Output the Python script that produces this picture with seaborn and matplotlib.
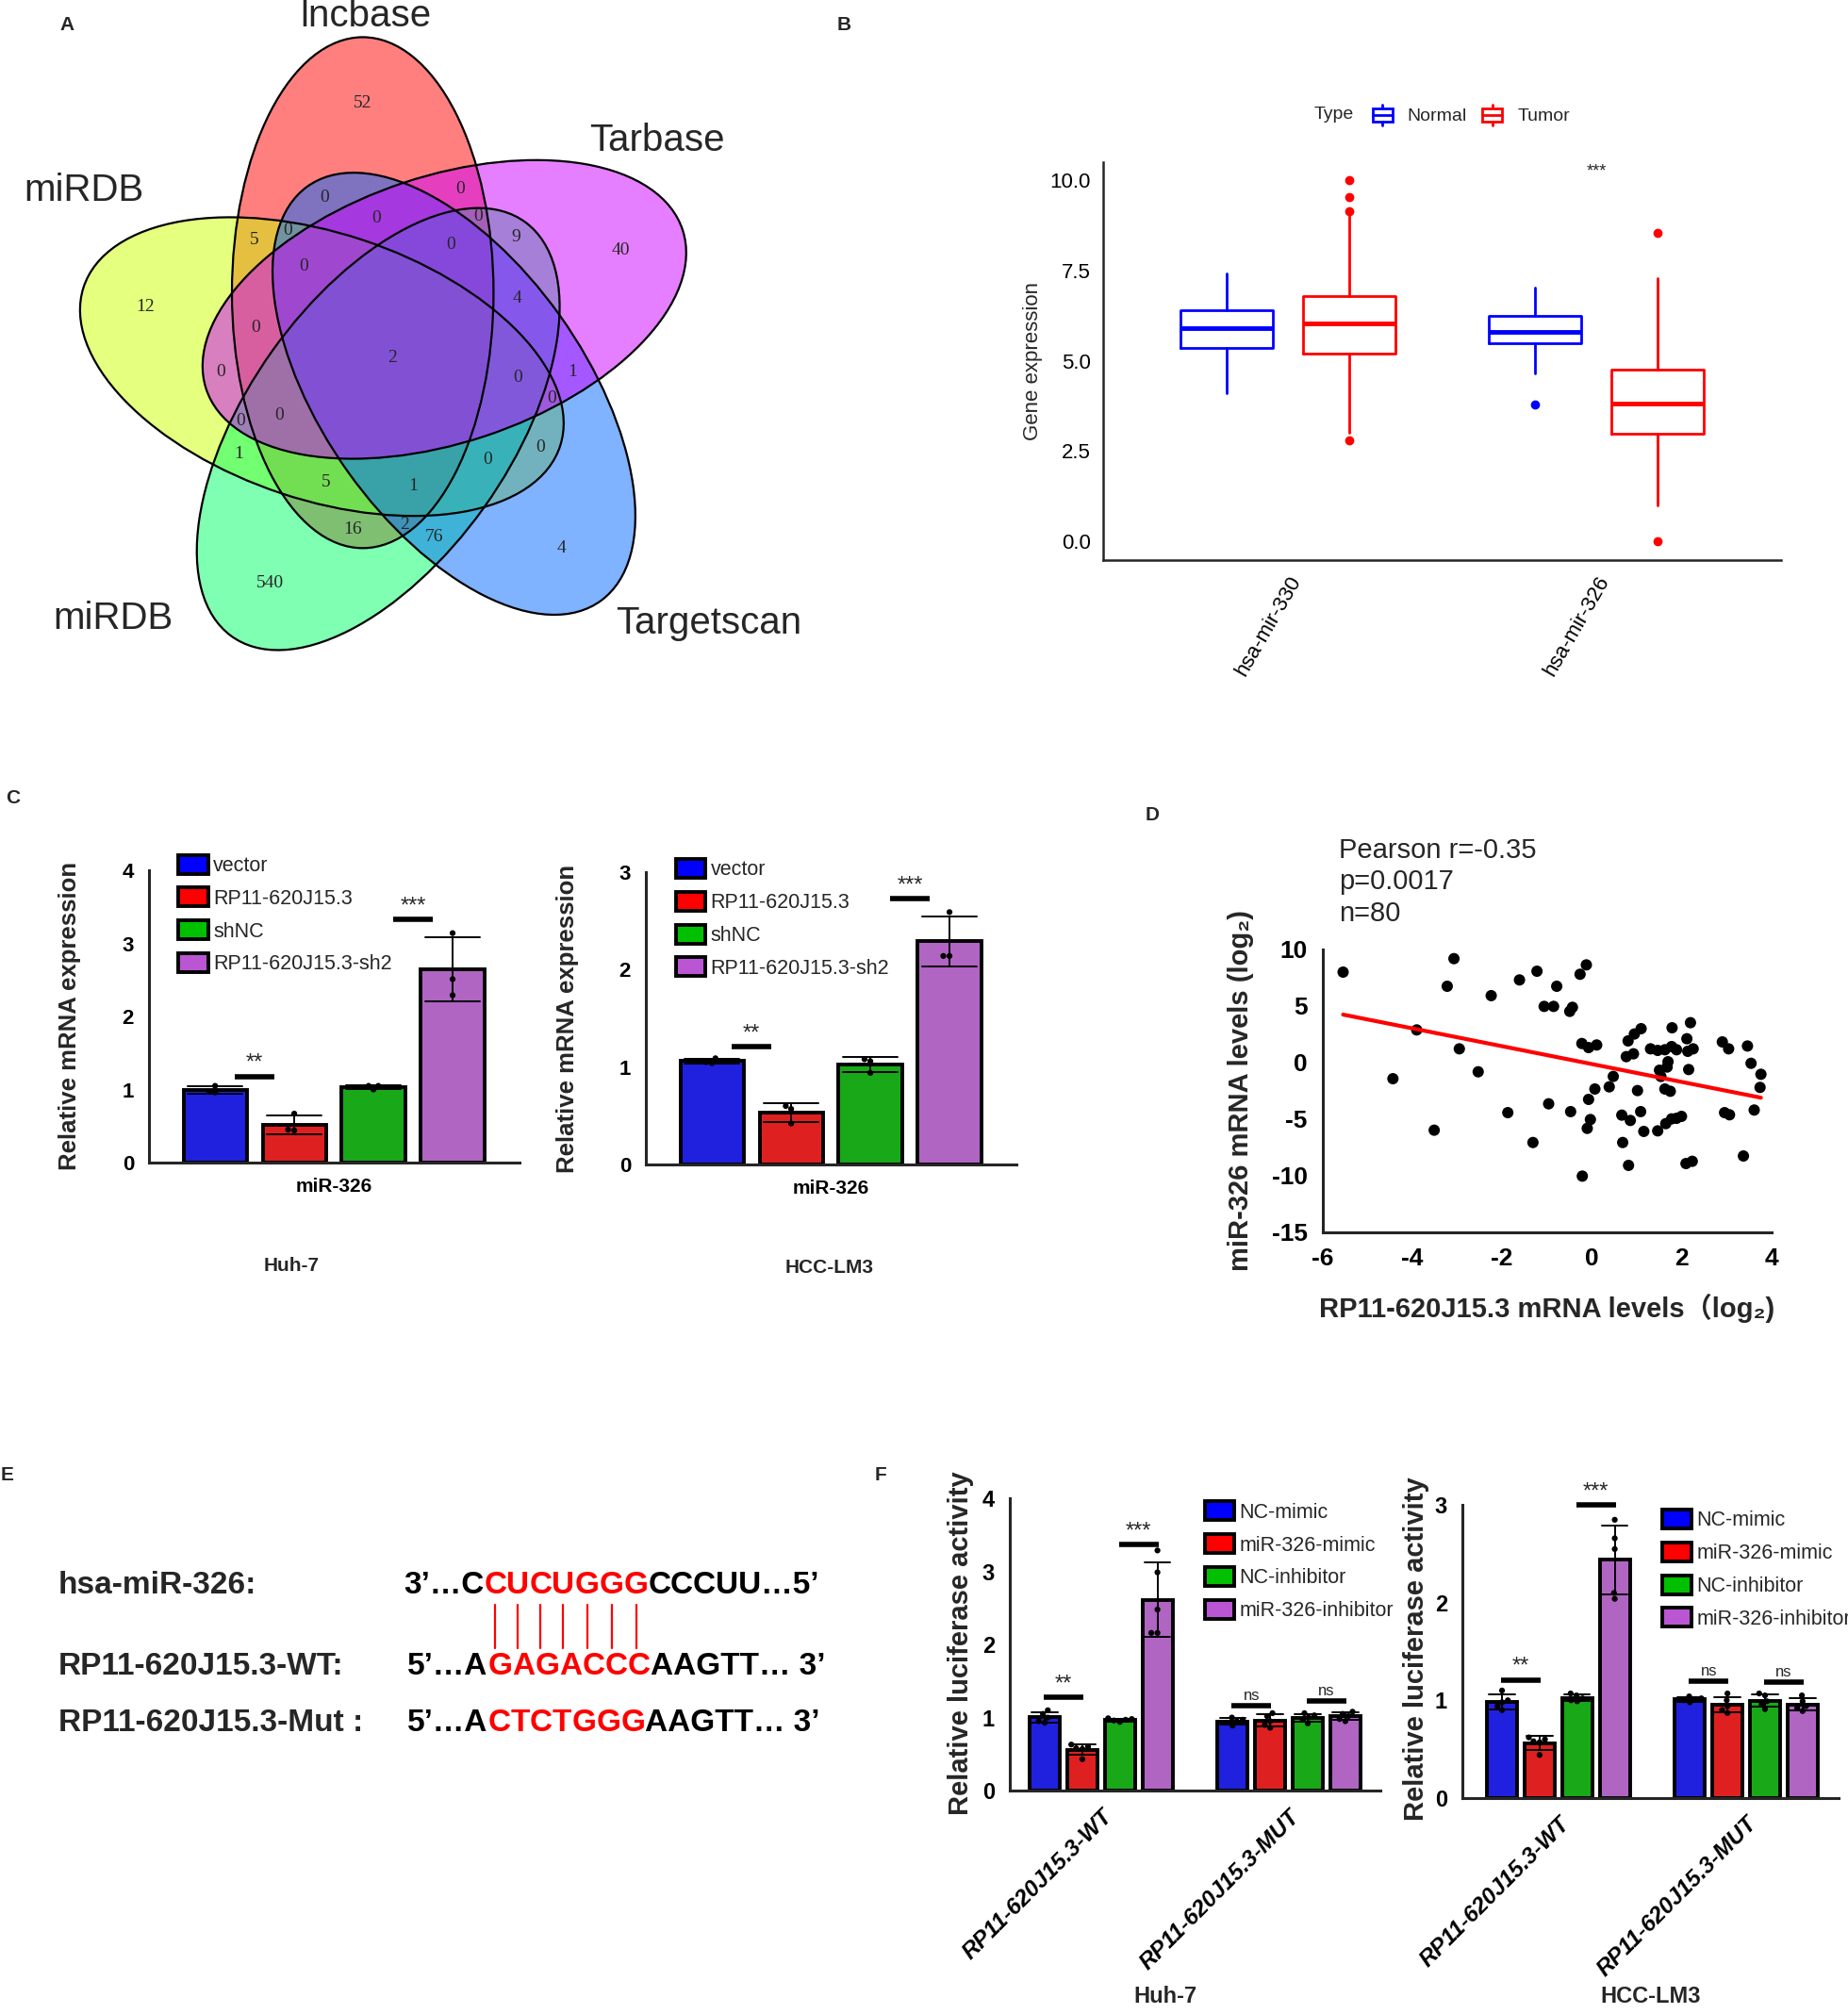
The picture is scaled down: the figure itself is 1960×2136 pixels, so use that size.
import numpy as np
import pandas as pd
import matplotlib
matplotlib.use("Agg")
import matplotlib.pyplot as plt
import seaborn as sns
from matplotlib.patches import Ellipse, Patch, Rectangle
from matplotlib.lines import Line2D
from matplotlib.legend_handler import HandlerBase
from matplotlib.ticker import FormatStrFormatter

# ---------------- data ----------------
# A: five-set Venn. L=lncbase, T=Tarbase, S=Targetscan, G=miRDB (bottom), Y=miRDB (left)
venn_keys = ["L", "T", "S", "G", "Y"]
venn_names = ["lncbase", "Tarbase", "Targetscan", "miRDB", "miRDB"]
venn_counts = {
    "L": 52, "T": 40, "S": 4, "G": 540, "Y": 12,
    "LT": 0, "LS": 0, "LG": 16, "LY": 5, "TS": 1, "TG": 9, "TY": 0, "SG": 76, "SY": 0, "GY": 1,
    "LTS": 0, "LTG": 0, "LTY": 0, "LSG": 2, "LSY": 0, "LGY": 5, "TSG": 4, "TSY": 0, "TGY": 0, "SGY": 0,
    "LTSG": 0, "LTSY": 0, "LTGY": 0, "LSGY": 1, "TSGY": 0,
    "LTSGY": 2,
}

# B: boxplot summary (330-Normal, 330-Tumor, 326-Normal, 326-Tumor)
b_genes = ["hsa-mir-330", "hsa-mir-326"]
b_types = ["Normal", "Tumor"]
b_whislo = [4.10, 3.00, 4.64, 0.99]
b_q1 = [5.36, 5.19, 5.48, 2.97]
b_med = [5.91, 6.03, 5.80, 3.81]
b_q3 = [6.40, 6.79, 6.24, 4.75]
b_whishi = [7.41, 9.05, 7.02, 7.28]
b_fliers = [[], [2.80, 9.14, 9.53, 10.0], [3.80], [0.0, 8.55]]

# C: relative miR-326 expression, three replicates
c_groups = ["vector", "RP11-620J15.3", "shNC", "RP11-620J15.3-sh2"]
c_huh7 = [[0.96, 1.05, 0.97], [0.67, 0.44, 0.45], [1.00, 1.05, 1.05], [3.14, 2.51, 2.29]]
c_lm3 = [[1.04, 1.09, 1.05], [0.60, 0.57, 0.42], [1.06, 1.08, 0.94], [2.59, 2.14, 2.14]]
c_sig_huh7 = [(0, 0, 1, "**", 1.18), (0, 2, 3, "***", 3.33)]
c_sig_lm3 = [(0, 0, 1, "**", 1.21), (0, 2, 3, "***", 2.73)]

# D: correlation scatter
d_x = [-5.54, -3.07, -3.22, -2.24, -1.61, -1.22, -0.78, -1.06, -0.85, -0.49, -0.43, -0.26, -0.12,
       -3.90, -2.95, -4.43, -2.53, -0.22, -0.07, 0.11, 0.07, -0.07, -0.96, -1.87, -0.47, -3.51,
       2.20, 1.10, 0.95, 1.79, 0.81, 0.77, 0.93, 1.31, 1.47, 1.63, 1.78, 1.89, 2.12, 2.14, 2.26,
       1.70, 1.68, 1.51, 1.54, 2.16, 2.91, 3.05, 3.47, 3.55, 3.77, 3.75, 0.48, 0.39, 1.02, 1.63,
       1.75, 0.67, 0.86, 1.09, -0.03, -0.10, 1.16, 1.47, 1.65, 1.78, 1.89, 2.00, 2.96, 3.07, 3.62,
       -1.31, 0.69, 0.82, -0.21, 2.10, 2.24, 3.38]
d_y = [8.00, 9.19, 6.75, 5.92, 7.31, 8.08, 6.75, 4.97, 4.97, 4.53, 4.89, 7.81, 8.64,
       2.89, 1.22, -1.42, -0.81, 1.69, 1.33, 1.56, -2.33, -3.25, -3.64, -4.42, -4.33, -5.97,
       3.53, 3.00, 2.53, 3.08, 1.92, 0.53, 0.78, 1.22, 1.08, 1.14, 1.42, 1.14, 2.11, 1.00, 1.22,
       0.08, -0.39, -0.67, -1.22, -0.61, 1.83, 1.22, 1.47, -0.06, -1.03, -2.19, -1.22, -2.14, -2.47,
       -2.33, -2.53, -4.64, -5.11, -4.33, -5.03, -5.81, -6.08, -6.03, -5.39, -4.97, -4.92, -4.75,
       -4.42, -4.61, -4.19, -7.06, -7.06, -9.08, -10.03, -8.92, -8.72, -8.25]
d_stats = ["Pearson r=-0.35", "p=0.0017", "n=80"]

# E: binding site sequences
e_rows = [
    ("hsa-miR-326:", [("3’…C", "k"), ("CUCUGGG", "r"), ("CCCUU…5’", "k")]),
    ("RP11-620J15.3-WT:", [("5’…A", "k"), ("GAGACCC", "r"), ("AAGTT… 3’", "k")]),
    ("RP11-620J15.3-Mut :", [("5’…A", "k"), ("CTCTGGG", "r"), ("AAGTT… 3’", "k")]),
]

# F: luciferase activity, five replicates
f_groups = ["NC-mimic", "miR-326-mimic", "NC-inhibitor", "miR-326-inhibitor"]
f_constructs = ["RP11-620J15.3-WT", "RP11-620J15.3-MUT"]
f_huh7 = [
    [[1.10, 1.05, 1.00, 0.95, 0.93], [0.63, 0.58, 0.60, 0.57, 0.43],
     [0.99, 0.98, 0.97, 0.96, 0.94], [3.29, 2.99, 2.48, 2.16, 2.16]],
    [[1.00, 0.97, 0.95, 0.93, 0.89], [1.06, 1.02, 0.95, 0.90, 0.86],
     [1.06, 1.03, 1.00, 0.97, 0.92], [1.08, 1.05, 1.02, 0.98, 0.95]],
]
f_lm3 = [
    [[1.10, 1.00, 0.98, 0.94, 0.90], [0.62, 0.60, 0.58, 0.57, 0.44],
     [1.07, 1.05, 1.02, 1.00, 0.99], [2.85, 2.66, 2.55, 2.10, 2.04]],
    [[1.04, 1.02, 1.01, 1.00, 0.98], [1.07, 1.00, 0.94, 0.90, 0.87],
     [1.07, 1.05, 0.99, 0.96, 0.91], [1.05, 0.99, 0.94, 0.92, 0.89]],
]
f_sig_huh7 = [(0, 0, 1, "**", 1.276), (0, 2, 3, "***", 3.37), (1, 0, 1, "ns", 1.163), (1, 2, 3, "ns", 1.227)]
f_sig_lm3 = [(0, 0, 1, "**", 1.208), (0, 2, 3, "***", 3.0), (1, 0, 1, "ns", 1.20), (1, 2, 3, "ns", 1.19)]

# ---------------- style ----------------
sns.set_theme(style="white")
plt.rcParams["font.family"] = ["Liberation Sans", "DejaVu Sans"]
plt.rcParams["axes.linewidth"] = 2.2
plt.rcParams["axes.unicode_minus"] = False

W, H = 1960, 2136
fig = plt.figure(figsize=(W / 100, H / 100), dpi=100)


def add_ax(left, top, right, bottom):
    return fig.add_axes([left / W, 1 - bottom / H, (right - left) / W, (bottom - top) / H])


# ---------------- A: Venn ----------------
axA = add_ax(0, 0, 830, 760)
ux, uy = 578, 589          # pixels per unit (the diagram is slightly taller than wide)
cxp, cyp = 416, 380
axA.set_xlim(-cxp / ux, (830 - cxp) / ux)
axA.set_ylim(-(760 - cyp) / uy, cyp / uy)
axA.axis("off")

venn_fill = ["#FF0000", "#CC00FF", "#0066FF", "#00FF66", "#CCFF00"]
semi_major, semi_minor, offset = 0.46, 0.24, 0.13
geo = []
for k in range(5):
    ca = np.deg2rad(-24.6 + 72 * k)
    geo.append((offset * np.sin(ca), offset * np.cos(ca), 72 * k))

for k in [0, 4, 3, 2, 1]:
    cx, cy, rot = geo[k]
    axA.add_patch(Ellipse((cx, cy), 2 * semi_minor, 2 * semi_major, angle=-rot,
                          facecolor=venn_fill[k], alpha=0.5, edgecolor="none"))
for k in range(5):
    cx, cy, rot = geo[k]
    axA.add_patch(Ellipse((cx, cy), 2 * semi_minor, 2 * semi_major, angle=-rot,
                          fill=False, edgecolor="black", lw=1.6))

# place each count at the point of its region farthest from any outline
gx, gy = np.meshgrid(np.linspace(-0.72, 0.72, 577), np.linspace(-0.62, 0.64, 505))
inside, dists = [], []
for k in range(5):
    cx, cy, rot = geo[k]
    t = np.deg2rad(rot)
    mx, my = np.sin(t), np.cos(t)
    nx, ny = np.cos(t), -np.sin(t)
    dx, dy = gx - cx, gy - cy
    u = dx * mx + dy * my
    v = dx * nx + dy * ny
    r = np.sqrt((u / semi_major) ** 2 + (v / semi_minor) ** 2) + 1e-9
    grx = (u / semi_major ** 2 * mx + v / semi_minor ** 2 * nx) / r
    gry = (u / semi_major ** 2 * my + v / semi_minor ** 2 * ny) / r
    inside.append(r < 1)
    dists.append(np.abs(r - 1) / np.hypot(grx / ux, gry / uy))
dmin = np.min(dists, axis=0)
for key, n in venn_counts.items():
    mask = np.ones(gx.shape, bool)
    for k, s in enumerate(venn_keys):
        mask &= inside[k] == (s in key)
    if not mask.any():
        continue
    i = np.argmax(np.where(mask, dmin, -1))
    axA.text(gx.flat[i], gy.flat[i], str(n), ha="center", va="center",
             family="Liberation Serif", fontsize=14)

venn_label_pos = [(-0.048, 0.616), (0.486, 0.392), (0.581, -0.477), (-0.512, -0.468), (-0.566, 0.302)]
for name, (lx, ly) in zip(venn_names, venn_label_pos):
    axA.text(lx, ly, name, ha="center", va="center", fontsize=29)

# ---------------- B: boxplot ----------------
axB = add_ax(1170, 172, 1889, 594)
b_colors = ["#0000FF", "#FF0000"]
for i in range(4):
    gi, ti = divmod(i, 2)
    c = b_colors[ti]
    st = dict(med=b_med[i], q1=b_q1[i], q3=b_q3[i], whislo=b_whislo[i], whishi=b_whishi[i],
              fliers=b_fliers[i])
    axB.bxp([st], positions=[gi + (ti - 0.5) * 0.4], widths=0.3, showcaps=False, manage_ticks=False,
            boxprops=dict(color=c, lw=2), whiskerprops=dict(color=c, lw=2),
            medianprops=dict(color=c, lw=3.5),
            flierprops=dict(marker="o", markerfacecolor=c, markeredgecolor=c, markersize=6))
axB.set_xlim(-0.6, 1.6)
axB.set_ylim(-0.52, 10.5)
axB.set_yticks([0, 2.5, 5, 7.5, 10])
axB.yaxis.set_major_formatter(FormatStrFormatter("%.1f"))
axB.set_xticks([0, 1])
axB.set_xticklabels(b_genes, rotation=60, ha="right", va="top", rotation_mode="anchor", fontsize=17)
sns.despine(ax=axB)
for sp in ["left", "bottom"]:
    axB.spines[sp].set_linewidth(1.8)
axB.tick_params(axis="both", direction="out", length=6, width=1.8, colors="black", labelsize=16)
axB.set_ylabel("Gene expression", fontsize=16, va="center")
axB.yaxis.set_label_coords(-0.104, 0.5)


class BoxKey(HandlerBase):
    def create_artists(self, legend, orig, xd, yd, width, height, fontsize, trans):
        c = orig.get_edgecolor()
        x0, x1 = -xd + width * 0.1, -xd + width * 0.9
        y0, y1 = -yd + height * 0.18, -yd + height * 0.82
        xm = (x0 + x1) / 2
        return [Rectangle((x0, y0), x1 - x0, y1 - y0, facecolor="white", edgecolor=c, lw=2, transform=trans),
                Line2D([x0, x1], [(y0 + y1) / 2] * 2, color=c, lw=2, transform=trans),
                Line2D([xm, xm], [-yd, y0], color=c, lw=2, transform=trans),
                Line2D([xm, xm], [y1, -yd + height], color=c, lw=2, transform=trans)]


b_handles = [Patch(facecolor="white", edgecolor=c, label=t) for c, t in zip(b_colors, b_types)]
fig.legend(handles=b_handles, loc="center left", bbox_to_anchor=(1453 / W, 1 - 122 / H), ncol=2,
           frameon=False, fontsize=14, handler_map={Patch: BoxKey()}, handlelength=1.35,
           handleheight=1.4, handletextpad=0.7, columnspacing=0.7, borderpad=0, borderaxespad=0)

# ---------------- C and F: bar charts ----------------
bar_colors = ["#0000FF", "#FF0000", "#00C000", "#BA55D3"]


def bar_chart(ax, values, cats, groups, ylim, sig, sig_half, tick_fs, leg_xy):
    rows = []
    for ci, cat in enumerate(cats):
        for gi, grp in enumerate(groups):
            for v in values[ci][gi]:
                rows.append((cat, grp, v))
    df = pd.DataFrame(rows, columns=["cat", "group", "value"])
    sns.barplot(data=df, x="cat", y="value", hue="group", order=cats, hue_order=groups,
                palette=bar_colors, errorbar="sd", capsize=0.55, gap=0.2, edgecolor="black",
                linewidth=2.8, legend=False, err_kws={"color": "black", "linewidth": 1.4}, ax=ax)
    sns.swarmplot(data=df, x="cat", y="value", hue="group", order=cats, hue_order=groups,
                  palette=["black"] * len(groups), dodge=True, size=4.5, legend=False, ax=ax)
    ax.set_ylim(*ylim)
    sns.despine(ax=ax)
    ax.tick_params(axis="both", direction="out", length=8, width=2.2, colors="black", labelsize=tick_fs)
    ax.set_xlabel("")
    for ci, g1, g2, txt, lvl in sig:
        b1, b2 = ax.containers[g1][ci], ax.containers[g2][ci]
        xc = (b1.get_x() + b1.get_width() / 2 + b2.get_x() + b2.get_width() / 2) / 2
        ax.plot([xc - sig_half, xc + sig_half], [lvl, lvl], color="black", lw=4,
                solid_capstyle="butt", clip_on=False)
        ax.annotate(txt, xy=(xc, lvl), xytext=(0, 2), textcoords="offset points", ha="center",
                    va="bottom", fontsize=17 if "*" in txt else 12, annotation_clip=False)
    handles = [Patch(facecolor=c, edgecolor="black", linewidth=2.8, label=g)
               for c, g in zip(bar_colors, groups)]
    ax.legend(handles=handles, loc="upper left", bbox_to_anchor=leg_xy, frameon=False, fontsize=15.5,
              handlelength=1.45, handleheight=1.05, handletextpad=0.25, labelspacing=0.58,
              borderpad=0, borderaxespad=0)


# C left (Huh-7)
axC1 = add_ax(158, 923, 551, 1233)
bar_chart(axC1, [c_huh7], ["miR-326"], c_groups, (0, 4), c_sig_huh7, 0.05, 16, (0.08, 1.053))
axC1.set_xlim(-0.467, 0.469)
axC1.set_yticks([0, 1, 2, 3, 4])
axC1.set_ylabel("Relative mRNA expression", fontsize=18.5, fontweight="bold", va="center")
axC1.yaxis.set_label_coords(-0.214, 0.503)

# C right (HCC-LM3)
axC2 = add_ax(685, 925, 1078, 1235)
bar_chart(axC2, [c_lm3], ["miR-326"], c_groups, (0, 3), c_sig_lm3, 0.05, 16, (0.081, 1.045))
axC2.set_xlim(-0.467, 0.469)
axC2.set_yticks([0, 1, 2, 3])
axC2.set_ylabel("Relative mRNA expression", fontsize=18.5, fontweight="bold", va="center")
axC2.yaxis.set_label_coords(-0.211, 0.5)
for ax in (axC1, axC2):
    ax.set_xticks([0])
    ax.set_xticklabels(["miR-326"], fontsize=15, fontweight="bold")
    ax.set_yticklabels([str(int(v)) for v in ax.get_yticks()], fontsize=16, fontweight="bold")

# F left (Huh-7)
axF1 = add_ax(1071, 1589.4, 1463.5, 1899)
bar_chart(axF1, f_huh7, f_constructs, f_groups, (0, 4), f_sig_huh7, 0.105, 17, (0.527, 0.99))
axF1.set_xlim(-0.486, 1.484)
axF1.set_yticks([0, 1, 2, 3, 4])
axF1.set_ylabel("Relative luciferase activity", fontsize=21, fontweight="bold", va="center")
axF1.yaxis.set_label_coords(-0.133, 0.505)

# F right (HCC-LM3)
axF2 = add_ax(1551, 1596.3, 1949.7, 1906.8)
bar_chart(axF2, f_lm3, f_constructs, f_groups, (0, 3), f_sig_lm3, 0.105, 17, (0.532, 0.985))
axF2.set_xlim(-0.511, 1.49)
axF2.set_yticks([0, 1, 2, 3])
axF2.set_ylabel("Relative luciferase activity", fontsize=21, fontweight="bold", va="center")
axF2.yaxis.set_label_coords(-0.124, 0.508)
for ax in (axF1, axF2):
    ax.set_xticks([0, 1])
    ax.set_xticklabels(f_constructs, rotation=45, ha="right", va="top", rotation_mode="anchor",
                       fontsize=17.5, fontweight="bold", fontstyle="italic")
    ax.set_yticklabels([str(int(v)) for v in ax.get_yticks()], fontsize=17, fontweight="bold")

# ---------------- D: scatter ----------------
axD = add_ax(1402.6, 1007, 1878.6, 1307)
sns.scatterplot(x=d_x, y=d_y, color="black", s=75, edgecolor="none", ax=axD)
sns.regplot(x=d_x, y=d_y, scatter=False, ci=None, color="#FF0000", line_kws={"lw": 3}, ax=axD)
axD.set_xlim(-6, 4)
axD.set_ylim(-15, 10)
axD.set_xticks([-6, -4, -2, 0, 2, 4])
axD.set_yticks([-15, -10, -5, 0, 5, 10])
sns.despine(ax=axD)
axD.tick_params(axis="both", direction="out", length=8, width=2.2, colors="black", labelsize=19)
for lbl in axD.get_xticklabels() + axD.get_yticklabels():
    lbl.set_fontweight("bold")
cjk = ["Liberation Sans", "Noto Sans CJK SC", "DejaVu Sans"]
axD.set_xlabel("RP11-620J15.3 mRNA levels（log₂)", fontsize=21, fontweight="bold", family=cjk,
               va="center")
axD.xaxis.set_label_coords(0.5, -0.267)
axD.set_ylabel("miR-326 mRNA levels (log₂)", fontsize=21, fontweight="bold", family=cjk, va="center")
axD.yaxis.set_label_coords(-0.182, 0.5)

# ---------------- overlay for free text (pixel coordinates) ----------------
axO = fig.add_axes([0, 0, 1, 1], zorder=5)
axO.set_xlim(0, W)
axO.set_ylim(H, 0)
axO.axis("off")
axO.patch.set_alpha(0)

for letter, (px, py) in zip("ABCDEF", [(71, 27), (895, 27), (14, 847), (1222, 865), (8, 1564), (934, 1564)]):
    axO.text(px, py, letter, fontsize=15, fontweight="bold", ha="center", va="center")

axO.text(1415, 122, "Type", fontsize=14, ha="center", va="center")
axO.text(1693, 182, "***", fontsize=13, ha="center", va="center")

axO.text(309, 1343, "Huh-7", fontsize=15, fontweight="bold", ha="center", va="center")
axO.text(880, 1345, "HCC-LM3", fontsize=15, fontweight="bold", ha="center", va="center")
axO.text(1236, 2118, "Huh-7", fontsize=17, fontweight="bold", ha="center", va="center")
axO.text(1751, 2118, "HCC-LM3", fontsize=17, fontweight="bold", ha="center", va="center")

for line, py in zip(d_stats, [902, 935, 969]):
    axO.text(1420, py, line, fontsize=21, ha="left", va="center")

# E sequences
seq_colors = {"k": "black", "r": "#FF0000"}
red_letters = []
for (label, parts), py, sx in zip(e_rows, [1682, 1768, 1828], [428, 432, 432]):
    axO.text(62, py, label, fontsize=24, fontweight="bold", ha="left", va="center")
    prev = None
    for s, c in parts:
        chunks = list(s) if c == "r" else [s]
        for ch in chunks:
            if prev is None:
                t = axO.text(sx, py, ch, color=seq_colors[c], fontsize=24, fontweight="bold",
                             ha="left", va="center")
            else:
                t = axO.annotate(ch, xy=(1, 0), xycoords=prev, ha="left", va="bottom",
                                 color=seq_colors[c], fontsize=24, fontweight="bold")
            if c == "r" and label.startswith("hsa"):
                red_letters.append(t)
            prev = t

fig.canvas.draw()
for t in red_letters:
    bb = t.get_window_extent()
    xc = (bb.x0 + bb.x1) / 2
    axO.plot([xc, xc], [1702, 1748], color="#FF0000", lw=1.6)

fig.savefig("out.png", dpi=100)
